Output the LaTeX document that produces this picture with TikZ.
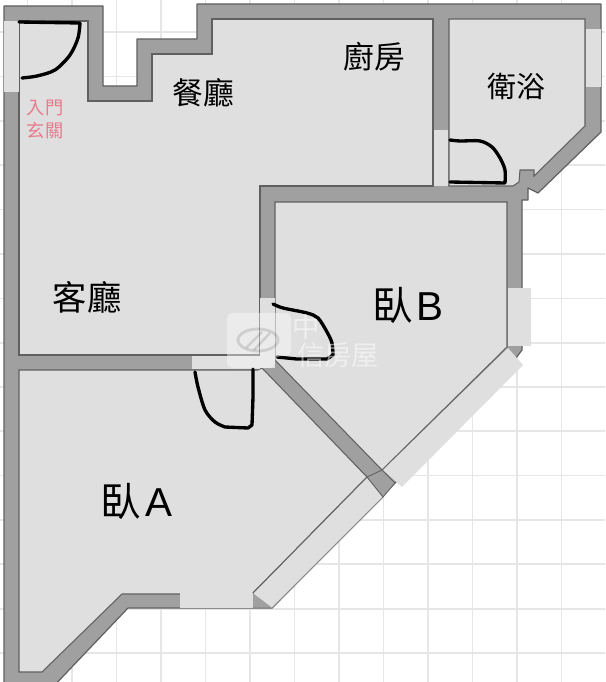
\documentclass[tikz,border=0pt]{standalone}
\usepackage{fontspec}
\setmainfont{Liberation Sans}
\newfontfamily\cjk{Noto Sans CJK TC}
\usetikzlibrary{positioning}
\definecolor{wallgray}{HTML}{A0A0A0}
\definecolor{floorgray}{HTML}{DFDFDF}
\definecolor{edgegray}{HTML}{606060}
\definecolor{softgray}{HTML}{8C8C8C}
\definecolor{gridgray}{HTML}{E6E6E6}
\definecolor{entrypink}{HTML}{E97A8E}
\tikzset{
  wall/.style={fill=wallgray, draw=edgegray, line width=0.7pt, line join=round},
  room/.style={fill=floorgray, draw=edgegray, line width=0.6pt},
  windowpane/.style={fill=floorgray, draw=none},
  doorswing/.style={draw=black, line width=1.9pt, line cap=round, line join=round},
  roomlabel/.style={text=black, font=\cjk\fontsize{17.5}{18}\selectfont, inner sep=0pt},
  bedlabel/.style={text=black, font=\fontsize{23}{23}\selectfont, inner sep=0pt},
  entrylabel/.style={text=entrypink, font=\cjk\fontsize{10.4}{12.6}\selectfont, inner sep=0pt, align=center},
  marktext/.style={text=white, text opacity=0.5, font=\cjk\fontsize{15.5}{15.5}\selectfont, inner sep=0pt}
}
\begin{document}
\begin{tikzpicture}[x=0.02cm, y=-0.02cm]
  \useasboundingbox (0,0) rectangle (605,682);
  \fill[white] (0,0) rectangle (605,682);

  % grid
  \foreach \gx in {27.5,72,116.5,161,205.5,250,294.5,339,383.5,428,472.5,517,561.5}
    \draw[gridgray, line width=1pt] (\gx,0) -- (\gx,682);
  \foreach \gy in {32,76.4,120.8,165,209.6,254,298.4,342.7,387,431,475.6,520,564.3,608.7,653}
    \draw[gridgray, line width=1pt] (0,\gy) -- (605,\gy);

  % walls
  \draw[wall] (4,6) -- (103,6) -- (103,86) -- (137,86) -- (137,39) -- (197,39) -- (197,4)
    -- (601,4) -- (601,132) -- (538,193) -- (528,188) -- (528,200) -- (522,200) -- (522,350)
    -- (516,358) -- (395,483) -- (272,608) -- (128,608) -- (50,690) -- (4,690) -- cycle;

  % rooms
  \draw[room] (19,21) -- (88,21) -- (88,101) -- (152,101) -- (152,54) -- (212,54) -- (212,19)
    -- (433,19) -- (433,186) -- (260,186) -- (260,355) -- (19,355) -- cycle;
  \draw[room] (449,19) -- (585,19) -- (585,126) -- (534,176) -- (534,170) -- (520,170)
    -- (519,182) -- (513,186) -- (449,186) -- cycle;
  \draw[room] (275,202) -- (507,202) -- (507,347) -- (382,470) -- (275,360) -- cycle;
  \draw[room] (19,370) -- (258,370) -- (262,368) -- (367,477) -- (253,593) -- (253,594)
    -- (122,594) -- (42,672) -- (19,672) -- cycle;

  % windows and openings
  \fill[windowpane] (4.4,21) rectangle (18.6,92);
  \fill[windowpane] (585.5,29) rectangle (600.5,87);
  \fill[windowpane] (433.6,130) rectangle (448.4,186);
  \fill[windowpane] (507.5,288) rectangle (531,346);
  \fill[windowpane] (260.3,298) rectangle (274.7,368);
  \fill[windowpane] (192,355.6) rectangle (260,369.4);
  \fill[windowpane] (180,593) rectangle (253.4,607.6);
  \fill[windowpane] (508,348) -- (523,365) -- (402,487) -- (383,470) -- cycle;
  \fill[windowpane] (367,477) -- (253,593) -- (272,608) -- (383,497) -- cycle;
  \draw[edgegray, line width=0.6pt] (367,477) -- (253,593);
  \draw[softgray, line width=0.6pt] (272,608) -- (383,497);
  \fill[wallgray] (253.3,594) -- (272,607.6) -- (253.3,607.6) -- cycle;
  \draw[wall, line width=0.5pt] (382,470) -- (395,483) -- (383,497) -- (367,477) -- cycle;

  % doors
  \draw[doorswing] (19,22) -- (80,23) plot[smooth] coordinates {(80,23) (78,38) (70,55) (55,70) (37,76) (22,78)};
  \draw[doorswing] plot[smooth] coordinates {(450,140) (460,141) (480,141) (492,147) (500,158) (505,170) (505,183)} -- (450,182);
  \draw[doorswing] plot[smooth] coordinates {(273,304) (283,308) (307,313) (318,318) (327,332) (332,343) (333,355)} -- (327,359) -- (297,359) -- (277,357);
  \draw[doorswing] plot[smooth] coordinates {(195,372) (198,387) (205,410) (215,422) (225,427)} -- (248,428) -- (252,425) -- (253,397) -- (253,369);

  % labels
  \node[roomlabel] (kitchen) at (374.5,57) {廚房};
  \node[roomlabel] (dining) at (203,93) {餐廳};
  \node[roomlabel, font=\cjk\fontsize{16.5}{18}\selectfont] (bath) at (516,86) {衛浴};
  \node[roomlabel, font=\cjk\fontsize{19.5}{20}\selectfont] (living) at (87,297) {客廳};
  \node[bedlabel] (bedb) at (408,305) {{\cjk 臥}\hspace{2pt}B};
  \node[bedlabel] (beda) at (136.5,501) {{\cjk 臥}\hspace{2.5pt}A};
  \node[entrylabel] (entry) at (45,119.5) {入門\\玄關};

  % watermark
  \fill[white, opacity=0.4, rounded corners=3pt] (227,313) -- (291,313) -- (291,356) -- (275,356) -- (275,368) -- (227,368) -- cycle;
  \draw[black, opacity=0.12, line width=1.6pt] (258,340) ellipse (20 and 11);
  \draw[black, opacity=0.12, line width=1.4pt] (246,348) -- (262,332) (254,350) -- (270,333);
  \node[marktext] (markone) at (306,327) {中};
  \node[marktext] (marktwo) at (338,355) {信房屋};
\end{tikzpicture}
\end{document}
